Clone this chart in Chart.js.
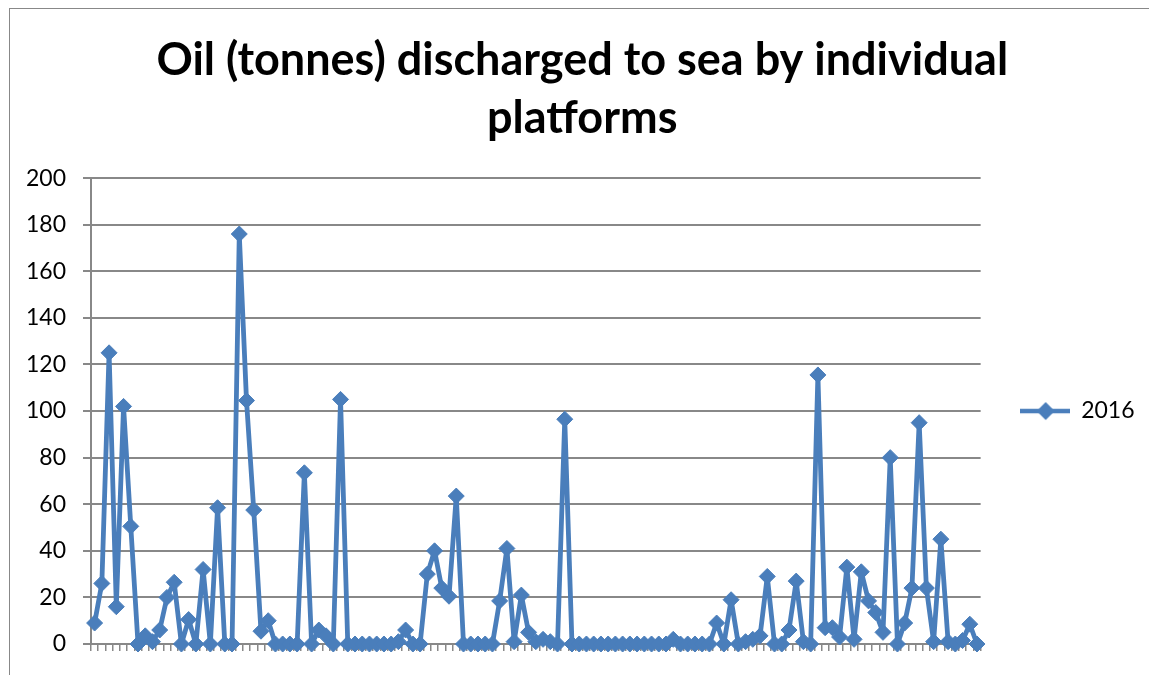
<!DOCTYPE html>
<html>
<head>
<meta charset="utf-8">
<title>Oil (tonnes) discharged to sea by individual platforms</title>
<script src="https://cdn.jsdelivr.net/npm/chart.js@4.4.1/dist/chart.umd.min.js"></script>
<style>
  html, body { margin: 0; padding: 0; background: #fff; }
  #wrap { position: relative; width: 1149px; height: 675px; }
  #frame { position: absolute; left: 9px; top: 8px; right: 0; bottom: 0;
           border-left: 1px solid #888; border-top: 1px solid #888; pointer-events: none; }
</style>
</head>
<body>
<div id="wrap">
  <canvas id="oilChart" width="1149" height="675"></canvas>
  <div id="frame"></div>
</div>
<script>
// Oil discharged per platform, 2016 (tonnes)
var oil2016 = [
  9, 26, 125, 16, 102, 50.5, 0, 3.5, 1, 6,
  20, 26.5, 0, 10.5, 0, 32, 0, 58.5, 0, 0,
  176, 104.5, 57.5, 5.5, 10, 0, 0, 0, 0, 73.5,
  0, 6, 3.5, 0, 105, 0, 0, 0, 0, 0,
  0, 0, 1, 6, 0, 0, 30, 40, 24, 20.5,
  63.5, 0, 0, 0, 0, 0, 18.5, 41, 1, 21,
  5, 1, 2, 1, 0, 96.5, 0, 0, 0, 0,
  0, 0, 0, 0, 0, 0, 0, 0, 0, 0,
  2, 0, 0, 0, 0, 0, 9, 0, 19, 0,
  1, 2, 3.5, 29, 0, 0, 6, 27, 1, 0,
  115.5, 7, 7, 3, 33, 2, 31, 18.5, 13.5, 5,
  80, 0, 9, 24, 95, 24, 1, 45, 1, 0,
  1.5, 8.5, 0
];
// Platforms have no names on the axis, just a running number
var platforms = oil2016.map(function (v, i) { return String(i + 1); });
var seriesName = '2016';
var titleLines = ['Oil (tonnes) discharged to sea by individual', 'platforms'];
var yMin = 0, yMax = 200, yStep = 20;

var lineColor = '#4a7ebb';
var axisGray = '#888888';

// Legend marker: a short line with a diamond on it, like Excel draws it
var legendMark = document.createElement('canvas');
legendMark.width = 50;
legendMark.height = 20;
var lm = legendMark.getContext('2d');
lm.strokeStyle = lineColor;
lm.lineWidth = 4.5;
lm.beginPath(); lm.moveTo(0, 10); lm.lineTo(50, 10); lm.stroke();
lm.fillStyle = lineColor;
lm.beginPath(); lm.moveTo(26, 1); lm.lineTo(35, 10); lm.lineTo(26, 19); lm.lineTo(17, 10); lm.closePath(); lm.fill();

var ctx = document.getElementById('oilChart').getContext('2d');
new Chart(ctx, {
  type: 'line',
  data: {
    labels: platforms,
    datasets: [{
      label: seriesName,
      data: oil2016,
      borderColor: lineColor,
      backgroundColor: lineColor,
      borderWidth: 4.8,
      borderJoinStyle: 'round',
      tension: 0,
      pointStyle: 'rectRot',
      pointRadius: 8,
      pointBorderWidth: 1,
      pointBackgroundColor: lineColor,
      pointBorderColor: lineColor,
      clip: false
    }]
  },
  options: {
    responsive: false,
    animation: false,
    layout: { padding: { left: 20, right: 4.5, top: 0, bottom: 24 } },
    plugins: {
      title: {
        display: true,
        text: titleLines,
        color: '#000',
        font: { family: 'Lato', size: 45, weight: 'bold', lineHeight: 1.29 },
        padding: { top: 31, bottom: 31 }
      },
      legend: {
        position: 'right',
        fullSize: false,
        labels: {
          usePointStyle: true,
          pointStyle: legendMark,
          pointStyleWidth: 50,
          padding: 39,
          color: '#000',
          font: { family: 'Lato', size: 23 }
        }
      },
      tooltip: { enabled: false }
    },
    scales: {
      x: {
        offset: true,
        grid: { offset: true, drawOnChartArea: false, drawTicks: true, tickLength: 7, color: axisGray, lineWidth: 1.5 },
        border: { display: true, color: axisGray, width: 2 },
        ticks: { display: false, autoSkip: false }
      },
      y: {
        min: yMin,
        max: yMax,
        ticks: { stepSize: yStep, padding: 17, color: '#000', font: { family: 'Lato', size: 23 } },
        grid: { color: axisGray, lineWidth: 2, drawTicks: true, tickLength: 8 },
        border: { display: true, color: axisGray, width: 2 },
        afterFit: function (scale) { scale.width = 71; }
      }
    }
  }
});
</script>
</body>
</html>
